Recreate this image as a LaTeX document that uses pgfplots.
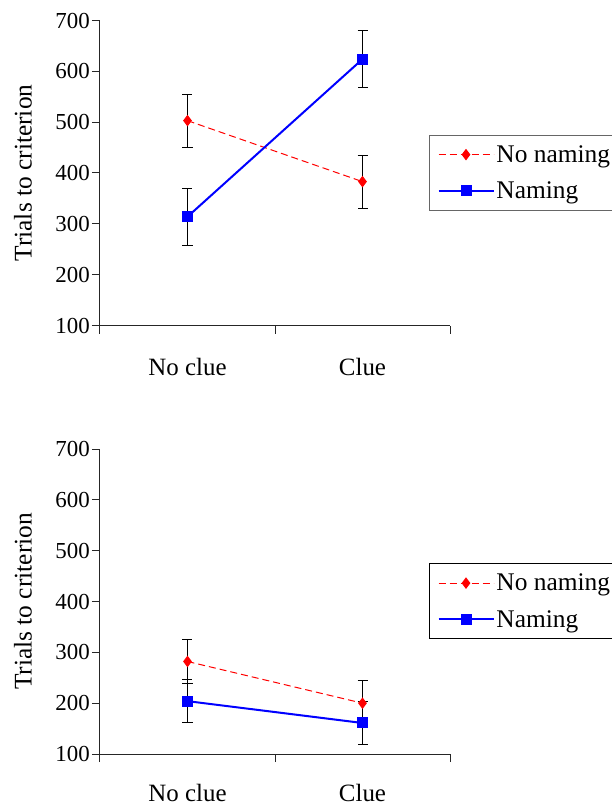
\documentclass[border=0pt]{standalone}
\usepackage{fontspec}
\setmainfont{Liberation Serif}
\setsansfont{Liberation Serif}
\usepackage{pgfplots}
\usepackage{pgfplotstable}
\pgfplotsset{compat=1.18}
\definecolor{xred}{RGB}{255,0,0}
\definecolor{xblue}{RGB}{0,0,255}

\pgfplotstableread{
x y e
0.5 503 52
1.5 383 52
}\topred
\pgfplotstableread{
x y e
0.5 314 56
1.5 624 56
}\topblue
\pgfplotstableread{
x y e
0.5 282 44
1.5 200 45
}\botred
\pgfplotstableread{
x y e
0.5 204 42
1.5 161 42
}\botblue

\pgfplotsset{
  panel/.style={
    scale only axis, width=350bp, height=305bp,
    xmin=0, xmax=2, ymin=100, ymax=700,
    axis lines=left, axis line style={-, black!85, line width=1bp},
    ytick={100,200,...,700},
    xtick={0,1,2}, xticklabels={},
    extra x ticks={0.5,1.5}, extra x tick labels={No clue, Clue},
    extra x tick style={major tick length=0pt},
    tick align=outside, major tick length=8bp,
    tick style={black!85, line width=1bp},
    /pgf/number format/assume math mode=true,
    yticklabel style={font=\rmfamily\fontsize{23}{27}\selectfont, anchor=east, inner sep=0pt, xshift=-2bp},
    xticklabel style={font=\rmfamily\fontsize{25}{29}\selectfont, anchor=north, inner sep=0pt, yshift=-33bp},
    ylabel={Trials to criterion},
    every axis y label/.style={at={(axis description cs:-0.22,0.5)}, rotate=90, anchor=center, font=\rmfamily\fontsize{25.5}{29}\selectfont},
    legend image code/.code={\draw[mark repeat=2,mark phase=2,#1] plot coordinates {(0bp,0bp) (27.5bp,0bp) (55bp,0bp)};},
    legend style={at={(0.94,0.6246)}, anchor=north west,
      font=\rmfamily\fontsize{25.5}{29}\selectfont, inner xsep=8bp, inner ysep=8bp,
      row sep=14bp, cells={anchor=west}},
    legend cell align=left,
    clip=false,
  },
  redline/.style={xred, dashed, dash pattern=on 7bp off 4bp, line width=1bp,
    mark=diamond*, mark size=5bp, mark options={solid, fill=xred, draw=xred}},
  blueline/.style={xblue, line width=2bp,
    mark=square*, mark size=4.5bp, mark options={solid, fill=xblue, draw=xblue}},
  errs/.style={error bars/.cd, y dir=both, y explicit,
    error bar style={black, line width=0.8bp, solid},
    error mark options={rotate=90, mark size=5bp, black, line width=0.8bp, solid}},
}

\begin{document}
\begin{tikzpicture}
\begin{axis}[panel, at={(0bp,0bp)}, anchor=south west,
  legend style={draw=black!60, line width=1bp}]
\addplot+[redline, errs] table[x=x, y=y, y error=e] {\topred};
\addlegendentry{No naming}
\addplot+[blueline, errs] table[x=x, y=y, y error=e] {\topblue};
\addlegendentry{Naming}
\end{axis}
\begin{axis}[panel, at={(0bp,-428.5bp)}, anchor=south west,
  legend style={draw=black, line width=1bp},
  xticklabel style={yshift=3bp}]
\addplot+[redline, errs] table[x=x, y=y, y error=e] {\botred};
\addlegendentry{No naming}
\addplot+[blueline, errs] table[x=x, y=y, y error=e] {\botblue};
\addlegendentry{Naming}
\end{axis}
\pgfresetboundingbox
\useasboundingbox (-100bp,-480.5bp) rectangle (512bp,325.5bp);
\end{tikzpicture}
\end{document}
